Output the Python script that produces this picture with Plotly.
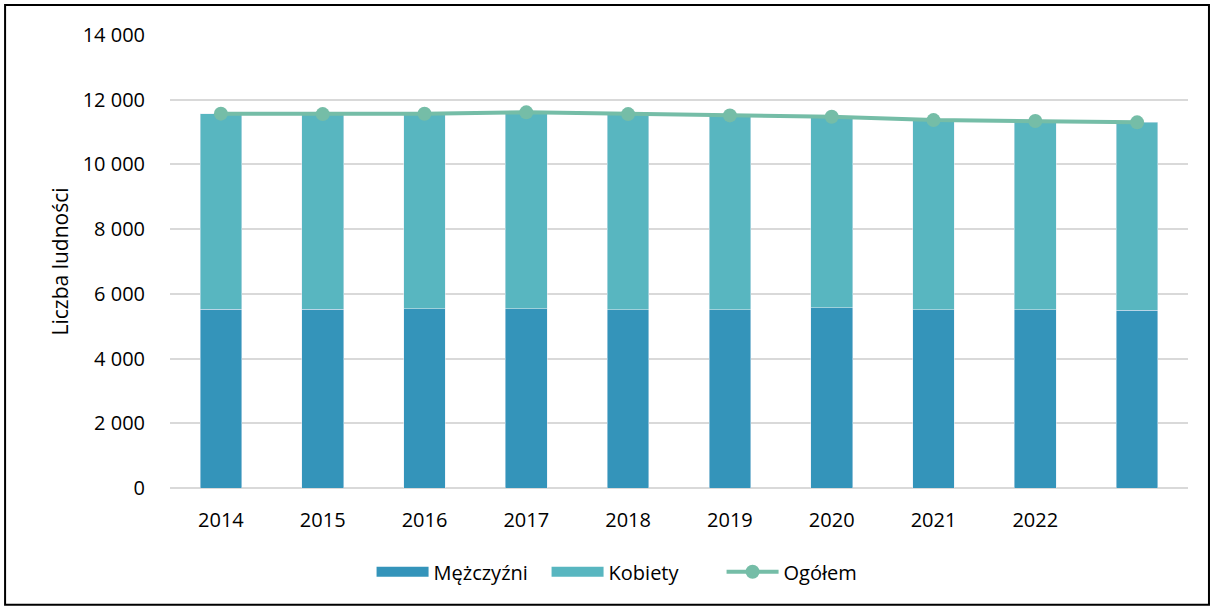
import plotly.graph_objects as go

years = ['2014', '2015', '2016', '2017', '2018', '2019', '2020', '2021', '2022', '']
mezczyzni = [5530, 5530, 5535, 5540, 5510, 5510, 5570, 5510, 5510, 5490]
kobiety = [6040, 6025, 6030, 6070, 6045, 6005, 5905, 5860, 5830, 5810]
ogolem = [11570, 11555, 11565, 11610, 11555, 11515, 11475, 11370, 11340, 11300]

y_ticks = [0, 2000, 4000, 6000, 8000, 10000, 12000, 14000]
y_ticktext = ['0', '2 000', '4 000', '6 000', '8 000', '10 000', '12 000', '14 000']

x = list(range(len(years)))
font = 'Open Sans'
c_m, c_k, c_o = '#3494BA', '#58B6C0', '#75BDA7'

fig = go.Figure()
fig.add_trace(go.Bar(x=x, y=mezczyzni, name='Mężczyźni', marker_color=c_m, showlegend=False))
fig.add_trace(go.Bar(x=x, y=kobiety, name='Kobiety', marker_color=c_k, showlegend=False))
fig.add_trace(go.Scatter(
    x=x, y=ogolem, name='Ogółem', mode='lines+markers',
    line=dict(color=c_o, width=4),
    marker=dict(color=c_o, size=14), showlegend=False
))

# legend entries (wide swatches like the original)
fig.add_trace(go.Scatter(x=[None], y=[None], name='Mężczyźni', mode='lines',
                         line=dict(color=c_m, width=13)))
fig.add_trace(go.Scatter(x=[None], y=[None], name='Kobiety', mode='lines',
                         line=dict(color=c_k, width=13)))
fig.add_trace(go.Scatter(x=[None], y=[None], name='Ogółem', mode='lines+markers',
                         line=dict(color=c_o, width=4), marker=dict(color=c_o, size=14)))

fig.update_layout(
    barmode='stack',
    bargap=0.59,
    width=1213, height=608,
    autosize=False,
    margin=dict(l=170, r=25, t=35, b=120, autoexpand=False),
    paper_bgcolor='white',
    plot_bgcolor='white',
    font=dict(family=font, size=20, color='black'),
    legend=dict(
        orientation='h', x=0.198, xanchor='left',
        y=-0.185, yanchor='middle', font=dict(size=20),
        traceorder='normal', itemwidth=52, entrywidth=108
    ),
    xaxis=dict(
        tickmode='array', tickvals=x, ticktext=years,
        range=[-0.5, len(years) - 0.5],
        showgrid=False, ticks='', ticklabelstandoff=18,
        showline=False, tickangle=0, automargin=False
    ),
    yaxis=dict(
        range=[0, 14000], tickvals=y_ticks, ticktext=y_ticktext,
        showgrid=True, gridcolor='#D9D9D9', gridwidth=1.5,
        zeroline=True, zerolinecolor='#D9D9D9', zerolinewidth=1.5,
        ticks='', ticklabelstandoff=24, automargin=False,
        title=dict(text='Liczba ludności', standoff=8, font=dict(size=21))
    ),
    shapes=[dict(
        type='rect', xref='paper', yref='paper',
        x0=-0.162, x1=1.0206, y0=-0.258, y1=1.066,
        line=dict(color='black', width=2)
    )]
)

fig.write_html('out.html', config={'displayModeBar': False},
               post_script="document.body.style.margin='0';")
